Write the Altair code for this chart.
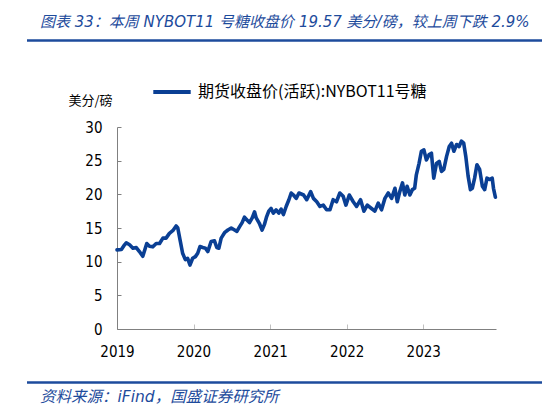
import altair as alt
import pandas as pd

# ---- data ----
dates = [
    "2019-01-01", "2019-01-22", "2019-02-06", "2019-02-14", "2019-03-02", "2019-03-18",
    "2019-04-03", "2019-04-18", "2019-05-04", "2019-05-23", "2019-06-05", "2019-06-21",
    "2019-07-07", "2019-07-23", "2019-08-08", "2019-08-23", "2019-09-08", "2019-09-24",
    "2019-10-10", "2019-10-18", "2019-10-29", "2019-11-10", "2019-11-23", "2019-12-04",
    "2019-12-15", "2019-12-28", "2020-01-10", "2020-01-21", "2020-02-01", "2020-02-14",
    "2020-02-27", "2020-03-09", "2020-03-25", "2020-04-10", "2020-04-21", "2020-05-01",
    "2020-05-12", "2020-05-28", "2020-06-13", "2020-06-29", "2020-07-15", "2020-07-26",
    "2020-08-08", "2020-08-20", "2020-08-31", "2020-09-12", "2020-09-24", "2020-10-07",
    "2020-10-18", "2020-10-26", "2020-11-10", "2020-11-23", "2020-12-04", "2020-12-15",
    "2020-12-25", "2021-01-05", "2021-01-16", "2021-01-29", "2021-02-11", "2021-02-22",
    "2021-03-05", "2021-03-18", "2021-03-31", "2021-04-11", "2021-04-22", "2021-05-05",
    "2021-05-18", "2021-06-09", "2021-06-24", "2021-07-13", "2021-07-26", "2021-08-11",
    "2021-08-26", "2021-09-11", "2021-09-27", "2021-10-13", "2021-10-28", "2021-11-13",
    "2021-11-29", "2021-12-15", "2021-12-28", "2022-01-13", "2022-02-01", "2022-02-17",
    "2022-03-08", "2022-03-24", "2022-04-09", "2022-04-29", "2022-05-15", "2022-05-31",
    "2022-06-16", "2022-07-02", "2022-07-18", "2022-08-03", "2022-08-19", "2022-08-30",
    "2022-09-11", "2022-09-24", "2022-10-05", "2022-10-16", "2022-10-29", "2022-11-10",
    "2022-11-21", "2022-11-29", "2022-12-12", "2022-12-23", "2023-01-04", "2023-01-16",
    "2023-01-29", "2023-02-09", "2023-02-20", "2023-03-05", "2023-03-18", "2023-03-29",
    "2023-04-09", "2023-04-22", "2023-05-05", "2023-05-16", "2023-05-27", "2023-06-09",
    "2023-06-21", "2023-07-02", "2023-07-13", "2023-07-23", "2023-08-03", "2023-08-14",
    "2023-08-23", "2023-09-03", "2023-09-14", "2023-09-27", "2023-10-10", "2023-10-21",
    "2023-11-01", "2023-11-13", "2023-11-26", "2023-12-02", "2023-12-11",
]
prices = [
    11.75, 11.8, 12.5, 12.8, 12.5, 12.0,
    12.1, 11.5, 10.8, 12.7, 12.3, 12.2,
    12.7, 12.7, 13.5, 13.5, 14.2, 14.6,
    15.3, 15.0, 13.2, 11.25, 10.3, 10.5,
    9.5, 10.5, 10.75, 11.25, 12.25, 12.1,
    12.0, 11.5, 13.0, 13.1, 12.1, 12.0,
    13.5, 14.3, 14.7, 15.0, 14.7, 14.5,
    15.2, 15.8, 16.6, 16.2, 15.8, 16.5,
    17.4, 16.5, 15.7, 14.7, 15.5, 16.7,
    17.5, 17.9, 17.2, 17.7, 17.2, 17.8,
    17.0, 18.2, 19.2, 20.2, 19.9, 19.4,
    20.2, 19.9, 19.2, 20.4, 19.4, 18.9,
    18.2, 18.4, 17.7, 17.7, 19.2, 18.9,
    20.2, 19.7, 18.4, 19.9, 18.9, 18.2,
    19.2, 17.5, 18.4, 17.9, 17.5, 18.7,
    17.7, 19.4, 20.2, 19.4, 20.9, 18.9,
    20.4, 21.7, 19.9, 21.2, 19.9, 20.7,
    20.9, 22.9, 24.6, 26.4, 26.6, 25.1,
    25.9, 26.1, 22.4, 24.6, 24.9, 23.4,
    23.7, 25.6, 27.1, 27.6, 26.4, 27.4,
    27.1, 27.9, 27.6, 25.6, 22.7, 20.7,
    20.9, 22.4, 24.4, 23.7, 21.2, 20.7,
    22.4, 22.2, 22.4, 20.9, 19.57,
]
series_name = "期货收盘价(活跃):NYBOT11号糖"
y_ticks = [0, 5, 10, 15, 20, 25, 30]
title_text = "图表 33：本周 NYBOT11 号糖收盘价 19.57 美分/磅，较上周下跌 2.9%"
source_text = "资料来源：iFind，国盛证券研究所"
y_unit = "美分/磅"

df = pd.DataFrame({"date": dates, "price": prices, "series": series_name})

LINE_BLUE = "#0a3f94"
TEXT_BLUE = "#1d4b9c"
CJK = "Noto Sans CJK SC"
MIXED = "DejaVu Sans, Noto Sans CJK SC"
NUM_FONT = "DejaVu Sans Condensed, Liberation Sans"

W, H = 379, 202

line = alt.Chart(df).mark_line(strokeWidth=3.6, strokeJoin="round", strokeCap="round").encode(
    x=alt.X(
        "date:T",
        scale=alt.Scale(domain=["2019-01-01", "2023-12-14"]),
        axis=alt.Axis(
            title=None, format="%Y", tickCount="year", labelFlush=False,
            tickSize=alt.ExprRef(expr="-5"), tickColor="#c0c0c0",
            domainColor="#808080", labelPadding=20,
            labelFont=NUM_FONT, labelFontSize=15, labelColor="#000000",
            grid=False,
        ),
    ),
    y=alt.Y(
        "price:Q",
        scale=alt.Scale(domain=[0, 30]),
        axis=alt.Axis(
            values=y_ticks, title=y_unit, titleAngle=0, titleAlign="left",
            titleBaseline="middle", titleX=-49, titleY=-27,
            titleFont=CJK, titleFontSize=13, titleFontWeight="normal", titleColor="#000000",
            tickSize=alt.ExprRef(expr="-4"), tickColor="#808080",
            domainColor="#808080", labelPadding=19,
            labelFont=NUM_FONT, labelFontSize=15, labelColor="#000000",
            grid=False,
        ),
    ),
    color=alt.Color(
        "series:N",
        scale=alt.Scale(range=[LINE_BLUE]),
        legend=alt.Legend(
            title=None, orient="none", legendX=34, legendY=-56, direction="horizontal",
            symbolType="stroke", symbolStrokeWidth=4, symbolSize=1400,
            labelFont=CJK, labelFontSize=16, labelColor="#000000", labelOffset=5,
            labelLimit=0, padding=0,
        ),
    ),
)

one = pd.DataFrame({"k": [0]})

top_rule = alt.Chart(one).mark_rule(color=TEXT_BLUE, strokeWidth=2.5).encode(
    x=alt.value(-90), x2=alt.value(428), y=alt.value(-86.5)
)
bottom_rule = alt.Chart(one).mark_rule(color=TEXT_BLUE, strokeWidth=2.5).encode(
    x=alt.value(-90), x2=alt.value(428), y=alt.value(255.5)
)
title = alt.Chart(one).mark_text(
    text=title_text, font=MIXED, fontSize=15, fontStyle="italic", color=TEXT_BLUE,
    align="left", baseline="middle",
).encode(x=alt.value(-77), y=alt.value(-105))
source = alt.Chart(one).mark_text(
    text=source_text, font=MIXED, fontSize=15.5, fontStyle="italic", color=TEXT_BLUE,
    align="left", baseline="middle",
).encode(x=alt.value(-77), y=alt.value(270))

chart = alt.layer(line, top_rule, bottom_rule, title, source).properties(
    width=W, height=H,
    padding={"left": 109, "top": 119, "right": 46, "bottom": 79},
    autosize=alt.AutoSizeParams(type="none"),
).configure_view(stroke=None)

chart.save("out.html", embed_options={"renderer": "svg", "actions": False})
